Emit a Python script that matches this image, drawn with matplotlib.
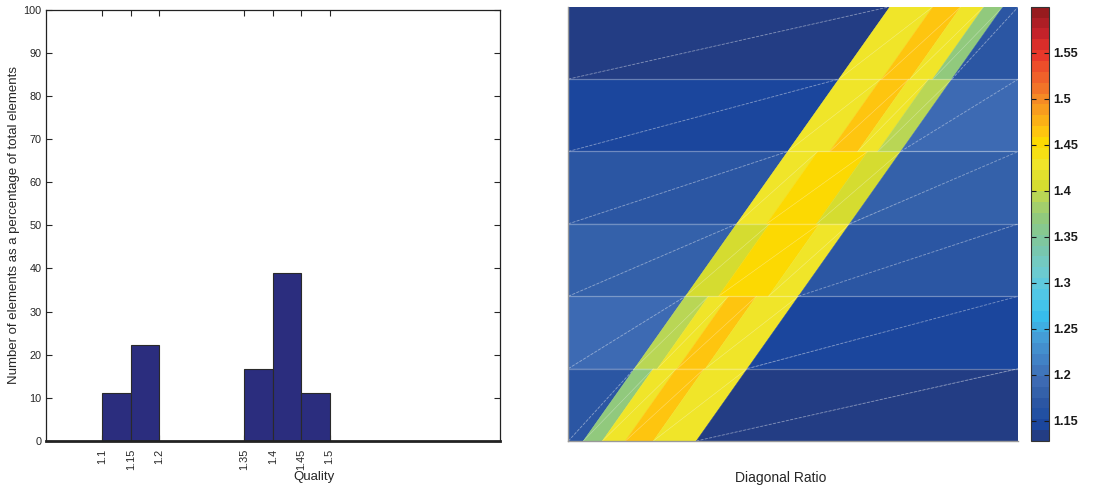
import numpy as np
import matplotlib
matplotlib.use('Agg')
import matplotlib.pyplot as plt
from matplotlib.colors import LinearSegmentedColormap, ListedColormap, Normalize
from matplotlib.tri import Triangulation
from matplotlib.cm import ScalarMappable

plt.rcParams['font.family'] = ['Liberation Sans', 'DejaVu Sans']
TXT = '#262626'

# ---------------- Left: histogram data ----------------
bar_left_edges = [1.10, 1.15, 1.35, 1.40, 1.45]
bar_width = 0.05
percentages = [11.1, 22.2, 16.7, 38.9, 11.1]
xtick_vals = [1.1, 1.15, 1.2, 1.35, 1.4, 1.45, 1.5]
xtick_labels = ['1.1', '1.15', '1.2', '1.35', '1.4', '1.45', '1.5']
ytick_vals = list(range(0, 101, 10))

# ---------------- Right: mesh quality field data ----------------
n_rows = 6
band_left_bottom = 0.0333
band_left_top = 0.7148
band_width = 0.251
# rows listed bottom -> top
left_vals = [1.174, 1.193, 1.181, 1.169, 1.146, 1.134]
right_vals = [1.134, 1.146, 1.169, 1.181, 1.193, 1.174]
stripe_widths = [[19, 23, 28, 43], [23, 20, 28, 42], [33, 50, 30],
                 [30, 50, 33], [42, 28, 20, 23], [43, 28, 23, 19]]
stripe_vals = [[1.370, 1.429, 1.464, 1.429], [1.393, 1.429, 1.464, 1.429],
               [1.405, 1.452, 1.429], [1.429, 1.452, 1.405],
               [1.429, 1.464, 1.429, 1.393], [1.429, 1.464, 1.429, 1.370]]

cbar_min, cbar_max = 1.128, 1.60
cbar_ticks = [1.15, 1.2, 1.25, 1.3, 1.35, 1.4, 1.45, 1.5, 1.55]
cbar_ticklabels = ['1.15', '1.2', '1.25', '1.3', '1.35', '1.4', '1.45', '1.5', '1.55']

cmap_stops = [
    (1.128, '#23387e'), (1.134, '#233d85'), (1.146, '#1a47a0'), (1.158, '#2250a2'),
    (1.169, '#2b56a3'), (1.181, '#3562ab'), (1.193, '#3d6ab3'), (1.220, '#4285c8'),
    (1.245, '#45a5dc'), (1.265, '#35c0ee'), (1.290, '#55c8e5'), (1.315, '#70cccc'),
    (1.340, '#7ac6a8'), (1.370, '#90c97e'), (1.393, '#b5d55a'), (1.405, '#d4dc30'),
    (1.429, '#f0e52a'), (1.452, '#fcdc00'), (1.464, '#fec70e'), (1.476, '#fbb016'),
    (1.500, '#f58a25'), (1.525, '#f0602a'), (1.550, '#e8352a'), (1.575, '#c0202a'),
    (1.600, '#8b1a1a'),
]
n_levels = 40

# ---------------- Figure ----------------
fig = plt.figure(figsize=(11.04, 4.86), dpi=100)

# Left axes
ax1 = fig.add_axes([0.0414, 0.0932, 0.4115, 0.886])
ax1.bar(bar_left_edges, percentages, width=bar_width, align='edge',
        color='#2b2d7e', edgecolor='#2a2a2a', linewidth=0.8, zorder=2)
ax1.set_xlim(1.0, 1.8)
ax1.set_ylim(0, 100)
ax1.set_yticks(ytick_vals)
ax1.set_xticks(xtick_vals)
ax1.set_xticklabels(xtick_labels, rotation=90)
ax1.tick_params(direction='in', length=4, width=0.8, top=True, right=True,
                labelsize=7.8, colors=TXT, pad=3)
ax1.tick_params(axis='x', pad=6)
for s in ax1.spines.values():
    s.set_color('#222222')
    s.set_linewidth(0.9)
ax1.spines['bottom'].set_linewidth(2.0)
ax1.set_xlabel('Quality', fontsize=9.5, color=TXT)
ax1.xaxis.set_label_coords(0.591, -0.071)
ax1.set_ylabel('Number of elements as a percentage of total elements', fontsize=9.5, color=TXT)
ax1.yaxis.set_label_coords(-0.057, 0.5)

# Colormap (discrete levels)
sv = np.array([v for v, _ in cmap_stops])
pos = (sv - cbar_min) / (cbar_max - cbar_min)
base_cmap = LinearSegmentedColormap.from_list('q', list(zip(pos, [c for _, c in cmap_stops])))
cmap = ListedColormap(base_cmap((np.arange(n_levels) + 0.5) / n_levels))
norm = Normalize(vmin=cbar_min, vmax=cbar_max)

# Right axes: build quads per row, split into triangles
ax2 = fig.add_axes([0.5148, 0.0926, 0.4076, 0.8936])
xs, ys, tris, fvals = [], [], [], []
diag_lines = []
for r in range(n_rows):
    y0, y1 = r, r + 1
    xl0 = band_left_bottom + (band_left_top - band_left_bottom) * y0 / n_rows
    xl1 = band_left_bottom + (band_left_top - band_left_bottom) * y1 / n_rows
    w = np.array(stripe_widths[r], float)
    w = w / w.sum() * band_width
    offs = np.concatenate([[0.0], np.cumsum(w)])
    bx0 = np.concatenate([[0.0], xl0 + offs, [1.0]])
    bx1 = np.concatenate([[0.0], xl1 + offs, [1.0]])
    vals = [left_vals[r]] + stripe_vals[r] + [right_vals[r]]
    for k, v in enumerate(vals):
        b = len(xs)
        xs += [bx0[k], bx0[k + 1], bx1[k + 1], bx1[k]]
        ys += [y0, y0, y1, y1]
        tris += [[b, b + 1, b + 2], [b, b + 2, b + 3]]
        fvals += [v, v]
        outer = (k == 0) or (k == len(vals) - 1)
        diag_lines.append(((bx0[k], bx1[k + 1]), (y0, y1), outer))

tri = Triangulation(np.array(xs), np.array(ys), np.array(tris))
ax2.tripcolor(tri, facecolors=np.array(fvals), cmap=cmap, norm=norm,
              edgecolors='face', linewidth=0.3)
for (lx, ly, outer) in diag_lines:
    if outer:
        ax2.plot(lx, ly, color='white', alpha=0.35, lw=0.7, ls=(0, (3, 1.5)))
    else:
        ax2.plot(lx, ly, color='white', alpha=0.25, lw=0.5)
for yb in range(1, n_rows):
    ax2.axhline(yb, color='white', alpha=0.3, lw=0.9)
ax2.set_xlim(0, 1)
ax2.set_ylim(0, n_rows)
ax2.set_xticks([])
ax2.set_yticks([])
for name, s in ax2.spines.items():
    s.set_color('#999999')
    s.set_linewidth(1.0)
ax2.spines['top'].set_visible(False)
ax2.spines['right'].set_visible(False)
ax2.set_xlabel('Diagonal Ratio', fontsize=10, color=TXT)
ax2.xaxis.set_label_coords(0.472, -0.068)

# Colorbar
cax = fig.add_axes([0.9339, 0.0926, 0.0163, 0.8936])
sm = ScalarMappable(norm=norm, cmap=cmap)
cb = fig.colorbar(sm, cax=cax, ticks=cbar_ticks)
cb.set_ticklabels(cbar_ticklabels)
cax.tick_params(direction='in', length=3.5, width=0.8, left=True, right=True,
                labelsize=9.2, colors='#1a1a1a', pad=3)
for t in cax.get_yticklabels():
    t.set_fontweight('bold')
cb.outline.set_edgecolor('#333333')
cb.outline.set_linewidth(0.8)

fig.savefig('out.png', dpi=100)
